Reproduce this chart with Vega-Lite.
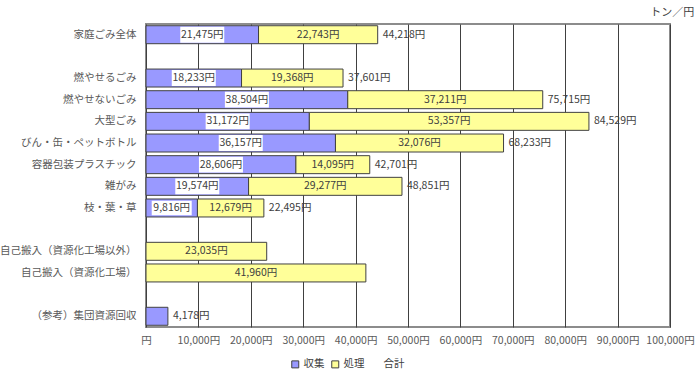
{
  "$schema": "https://vega.github.io/schema/vega-lite/v6.json",
  "autosize": {"type": "none"},
  "padding": {"left": 146, "top": 24, "right": 30, "bottom": 48},
  "width": 524,
  "height": 303,
  "config": {
    "font": "Noto Sans CJK JP",
    "view": {"stroke": "#8c8c8c", "strokeWidth": 2},
    "axis": {"labelFont": "Noto Sans CJK JP", "labelColor": "#595959"},
    "legend": {"labelFont": "Noto Sans CJK JP"}
  },
  "title": {"text": "トン／円", "anchor": "end", "fontSize": 11, "fontWeight": "normal", "color": "#404040", "offset": 6, "font": "Noto Sans CJK JP"},
  "datasets": {
    "seg": [
      {"cat": "家庭ごみ全体", "type": "収集", "value": 21475},
      {"cat": "家庭ごみ全体", "type": "処理", "value": 22743},
      {"cat": "燃やせるごみ", "type": "収集", "value": 18233},
      {"cat": "燃やせるごみ", "type": "処理", "value": 19368},
      {"cat": "燃やせないごみ", "type": "収集", "value": 38504},
      {"cat": "燃やせないごみ", "type": "処理", "value": 37211},
      {"cat": "大型ごみ", "type": "収集", "value": 31172},
      {"cat": "大型ごみ", "type": "処理", "value": 53357},
      {"cat": "びん・缶・ペットボトル", "type": "収集", "value": 36157},
      {"cat": "びん・缶・ペットボトル", "type": "処理", "value": 32076},
      {"cat": "容器包装プラスチック", "type": "収集", "value": 28606},
      {"cat": "容器包装プラスチック", "type": "処理", "value": 14095},
      {"cat": "雑がみ", "type": "収集", "value": 19574},
      {"cat": "雑がみ", "type": "処理", "value": 29277},
      {"cat": "枝・葉・草", "type": "収集", "value": 9816},
      {"cat": "枝・葉・草", "type": "処理", "value": 12679},
      {"cat": "自己搬入（資源化工場以外）", "type": "処理", "value": 23035},
      {"cat": "自己搬入（資源化工場）", "type": "処理", "value": 41960},
      {"cat": "（参考）集団資源回収", "type": "収集", "value": 4178}
    ],
    "tot": [
      {"cat": "家庭ごみ全体", "total": 44218},
      {"cat": "燃やせるごみ", "total": 37601},
      {"cat": "燃やせないごみ", "total": 75715},
      {"cat": "大型ごみ", "total": 84529},
      {"cat": "びん・缶・ペットボトル", "total": 68233},
      {"cat": "容器包装プラスチック", "total": 42701},
      {"cat": "雑がみ", "total": 48851},
      {"cat": "枝・葉・草", "total": 22495},
      {"cat": "（参考）集団資源回収", "total": 4178}
    ]
  },
  "data": {"name": "seg"},
  "transform": [
    {"stack": "value", "groupby": ["cat"], "sort": [{"field": "type", "order": "descending"}], "as": ["x0", "x1"]},
    {"calculate": "(datum.x0 + datum.x1) / 2", "as": "mid"},
    {"calculate": "format(datum.value, ',') + '円'", "as": "label"}
  ],
  "encoding": {
    "y": {
      "field": "cat", "type": "nominal", "title": null,
      "scale": {
        "domain": ["家庭ごみ全体", "_1", "燃やせるごみ", "燃やせないごみ", "大型ごみ", "びん・缶・ペットボトル", "容器包装プラスチック", "雑がみ", "枝・葉・草", "_2", "自己搬入（資源化工場以外）", "自己搬入（資源化工場）", "_3", "（参考）集団資源回収"],
        "paddingInner": 0.17, "paddingOuter": 0.08
      },
      "axis": {"ticks": false, "domain": false, "labelFontSize": 10.5, "labelPadding": 10, "labelExpr": "indexof(datum.value, '_') == 0 ? '' : datum.value"}
    }
  },
  "layer": [
    {
      "mark": {"type": "bar", "stroke": "#404040", "strokeWidth": 1},
      "encoding": {
        "x": {
          "field": "x0", "type": "quantitative", "title": null,
          "scale": {"domain": [0, 100000], "nice": false},
          "axis": {"values": [0, 10000, 20000, 30000, 40000, 50000, 60000, 70000, 80000, 90000, 100000], "grid": true, "gridColor": "#404040", "gridWidth": 1, "gridOpacity": 1, "ticks": false, "domain": false, "labelFontSize": 10.5, "labelPadding": 8, "labelFlush": false, "labelExpr": "datum.value == 0 ? '円' : format(datum.value, ',') + '円'"}
        },
        "x2": {"field": "x1"},
        "color": {
          "field": "type", "type": "nominal",
          "scale": {"domain": ["収集", "処理", "合計"], "range": ["#9999ff", "#ffff99", "rgba(0,0,0,0)"]},
          "legend": {
            "title": null, "orient": "none", "direction": "horizontal", "legendX": 144, "legendY": 335,
            "symbolType": "square", "symbolSize": 49, "symbolStrokeWidth": 1, "symbolStrokeColor": "#404040",
            "labelFontSize": 10.5, "labelColor": "#404040", "labelOffset": 3, "columnPadding": 4,
            "encode": {"symbols": {"update": {"stroke": {"signal": "datum.value === '合計' ? 'transparent' : '#404040'"}}}}
          }
        }
      }
    },
    {
      "transform": [{"filter": "datum.type === '収集' && datum.cat !== '（参考）集団資源回収'"}],
      "mark": {"type": "point", "shape": "M-1,-0.36H1V0.36H-1Z", "filled": true, "fill": "white", "opacity": 1, "strokeWidth": 0},
      "encoding": {
        "x": {"field": "mid", "type": "quantitative"},
        "size": {"condition": {"test": "datum.value < 10000", "value": 1600}, "value": 1936}
      }
    },
    {
      "transform": [{"filter": "datum.cat !== '（参考）集団資源回収'"}],
      "mark": {"type": "text", "fontSize": 10.5, "color": "#404040", "align": "center", "baseline": "middle"},
      "encoding": {"x": {"field": "mid", "type": "quantitative"}, "text": {"field": "label"}}
    },
    {
      "data": {"name": "tot"},
      "transform": [{"calculate": "format(datum.total, ',') + '円'", "as": "tlabel"}],
      "mark": {"type": "text", "fontSize": 10.5, "color": "#404040", "align": "left", "baseline": "middle", "dx": 5},
      "encoding": {"x": {"field": "total", "type": "quantitative"}, "text": {"field": "tlabel"}}
    }
  ]
}
